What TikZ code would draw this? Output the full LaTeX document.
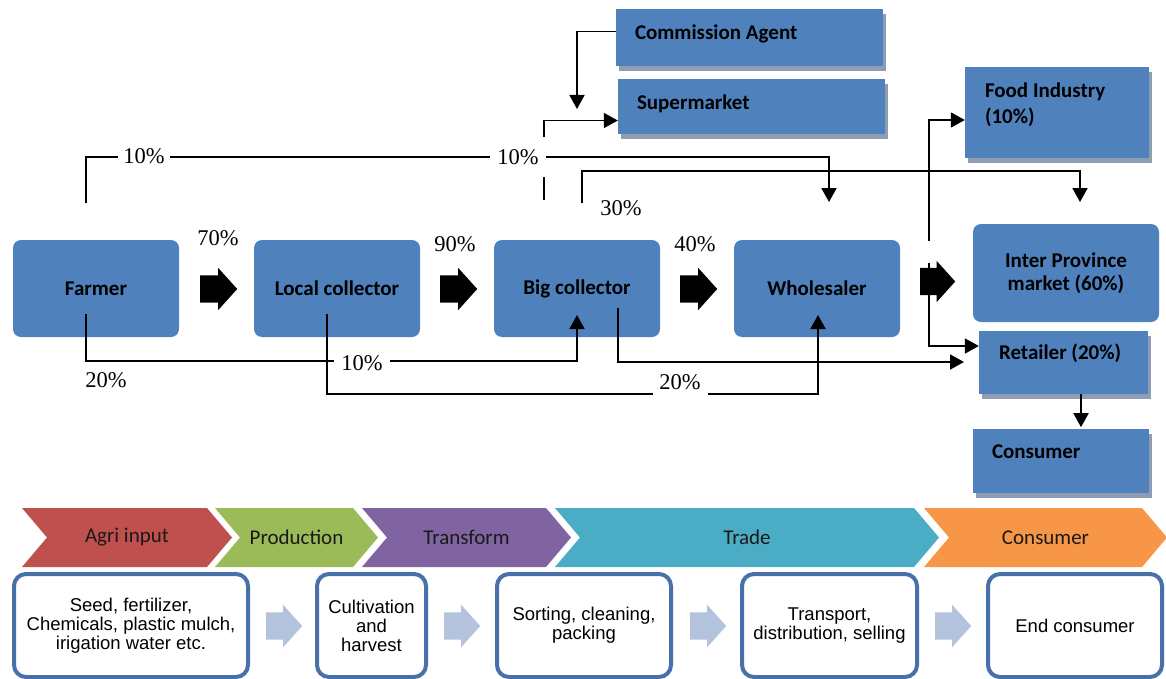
\documentclass[tikz,border=0pt]{standalone}
\usepackage{fontspec}
\setmainfont{Liberation Serif}
\newfontfamily\calibri{Carlito}
\newfontfamily\arialf{Liberation Sans}
\usetikzlibrary{arrows.meta,shapes.arrows,shadows,calc}
\tikzset{>={Triangle[length=14pt,width=15pt]}}
\definecolor{boxblue}{RGB}{79,129,189}
\definecolor{shgray}{RGB}{143,157,178}
\definecolor{stepline}{RGB}{72,113,170}
\definecolor{lightarr}{RGB}{179,195,222}
\definecolor{chred}{RGB}{192,80,77}
\definecolor{chgreen}{RGB}{155,187,89}
\definecolor{chpurple}{RGB}{128,100,162}
\definecolor{chteal}{RGB}{75,172,198}
\definecolor{chorange}{RGB}{247,150,70}
\newcommand*{\chev}[5]{%
  \fill[#3] (#1,508) -- (#2,508) -- (#2+25,537.5) -- (#2,567)
    -- (#1,567) -- (#1+25,537.5) -- cycle;
  \node[stagelbl] (#5) at ({(#1+#2+25)/2},537.5) {#4};}

\begin{document}
\begin{tikzpicture}[x=1pt,y=-1pt,
  rbox/.style={rectangle,rounded corners=8pt,fill=boxblue,align=center,
    minimum width=166pt,minimum height=97pt,
    font=\calibri\bfseries\fontsize{21}{23}\selectfont},
  sqbox/.style={rectangle,fill=boxblue,align=flush left,inner ysep=0pt,
    text height=14pt,font=\calibri\bfseries\fontsize{21}{26}\selectfont,
    general shadow={fill=shgray,shadow xshift=3pt,shadow yshift=-5pt}},
  pct/.style={font=\fontsize{22.5}{26}\selectfont,inner sep=0pt},
  pctgap/.style={pct,fill=white,minimum width=56pt,minimum height=40pt},
  conn/.style={line width=1.8pt},
  blk/.style={single arrow,fill=black,inner xsep=0pt,inner ysep=13.5pt,
    minimum width=42pt,minimum height=37pt,single arrow head extend=7.5pt,
    single arrow tip angle=96,anchor=tail},
  smallarr/.style={blk,fill=lightarr,minimum height=36pt},
  stepbox/.style={rectangle,rounded corners=12pt,draw=stepline,
    line width=4pt,fill=white,minimum height=103pt,align=center,
    font=\arialf\fontsize{18.5}{19}\selectfont},
  stagelbl/.style={font=\calibri\fontsize{21}{24}\selectfont,
    text=black!90}]
\useasboundingbox (0,0) rectangle (1166,679);

% actors
\node[rbox] (farmer) at (96,288.5) {Farmer};
\node[rbox] (local) at (337,288.5) {Local collector};
\node[rbox] (big) at (577,288.5) {Big collector};
\node[rbox] (whole) at (817,288.5) {Wholesaler};
\node[rbox,minimum width=186pt,minimum height=98pt] (inter)
  at (1066,273) {Inter Province\\market (60\%)};
\node[sqbox,inner xsep=19pt,text width=229pt,minimum height=57pt,
  text depth=9.5pt] (comm) at (749.5,37.5) {Commission Agent};
\node[sqbox,inner xsep=19pt,text width=229pt,minimum height=55pt,
  text depth=7.5pt] (super) at (751.5,106.5) {Supermarket};
\node[sqbox,inner xsep=20pt,text width=144pt,minimum height=91pt,
  text depth=43.5pt] (food) at (1057,112.5) {Food Industry\\(10\%)};
\node[sqbox,inner xsep=20pt,text width=129pt,minimum height=63pt,
  text depth=19.5pt] (ret) at (1063.5,362.5) {Retailer (20\%)};
\node[sqbox,inner xsep=19pt,text width=138pt,minimum height=64pt,
  text depth=18.5pt] (cons) at (1061,461) {Consumer};

\node[blk] (a1) at (200,289) {};
\node[blk] (a2) at (440,289) {};
\node[blk] (a3) at (680,289) {};
\node[blk,minimum height=35pt,minimum width=41pt,
  single arrow head extend=7pt] (a4) at (920,281.5) {};

% flows
\coordinate (f-up) at (86,203);
\coordinate (f-dn) at (86,314);
\coordinate (l-dn) at (327,314);
\coordinate (b-up1) at (544,200);
\coordinate (b-up2) at (582,203);
\coordinate (b-dn) at (618,308);
\coordinate (w-up) at (929,241);
\coordinate (w-dn) at (929,263);
\coordinate (ca-end) at (577,109);
\coordinate (w-top) at (829,202);
\coordinate (ip-top) at (1080,202);
\coordinate (b-in) at (577,315);
\coordinate (w-in) at (818,315);
\coordinate (r-in) at (964,362);

\draw[conn,->] (f-up) -- ++(0,-46) -| (w-top);
\draw[conn,->] (b-up1) |- ([yshift=-14pt]super.west);
\draw[conn,->] ([yshift=6pt]comm.west) -| (ca-end);
\draw[conn,->] (b-up2) -- ++(0,-32) -| (ip-top);
\draw[conn,->] (w-up) |- ([yshift=-7.5pt]food.west);
\draw[conn,->] (w-dn) |- ([yshift=16.5pt]ret.west);
\draw[conn,->] (f-dn) -- ++(0,47) -| (b-in);
\draw[conn,->] (l-dn) -- ++(0,80) -| (w-in);
\draw[conn,->] (b-dn) |- (r-in);
\draw[conn,->] ([xshift=17.5pt]ret.south) -- ++(0,33);

\node[pct] (p70) at (218,238) {70\%};
\node[pct] (p90) at (455,244) {90\%};
\node[pct] (p40) at (695,244) {40\%};
\node[pct] (p30) at (621,208) {30\%};
\node[pct] (p20a) at (106,380) {20\%};
\node[pctgap,minimum width=52pt] (p10a) at (144,156) {10\%};
\node[pctgap] (p10b) at (518,157) {10\%};
\node[pctgap] (p10c) at (362,363) {10\%};
\node[pctgap,minimum width=55pt,minimum height=36pt] (p20b) at (680,382) {20\%};

% value chain stages
\chev{22}{207}{chred}{Agri input}{agri}
\chev{215}{353}{chgreen}{Production}{prod}
\chev{362}{546}{chpurple}{Transform}{trans}
\chev{555}{914}{chteal}{Trade}{trade}
\chev{924}{1142}{chorange}{Consumer}{consum}

\node[stepbox,minimum width=234pt] (seed) at (131,625.5)
  {Seed, fertilizer,\\Chemicals, plastic mulch,\\irigation water etc.};
\node[stepbox,minimum width=109pt] (cult) at (371.5,625.5)
  {Cultivation\\and\\harvest};
\node[stepbox,minimum width=174pt] (sort) at (584,625.5)
  {Sorting, cleaning,\\packing};
\node[stepbox,minimum width=175pt] (trans-b) at (829.5,625.5)
  {Transport,\\distribution, selling};
\node[stepbox,minimum width=174pt] (end) at (1075,625.5) {End consumer};

\node[smallarr] (s1) at (266,626) {};
\node[smallarr] (s2) at (444,626) {};
\node[smallarr] (s3) at (690,626) {};
\node[smallarr] (s4) at (935,626) {};
\end{tikzpicture}
\end{document}
